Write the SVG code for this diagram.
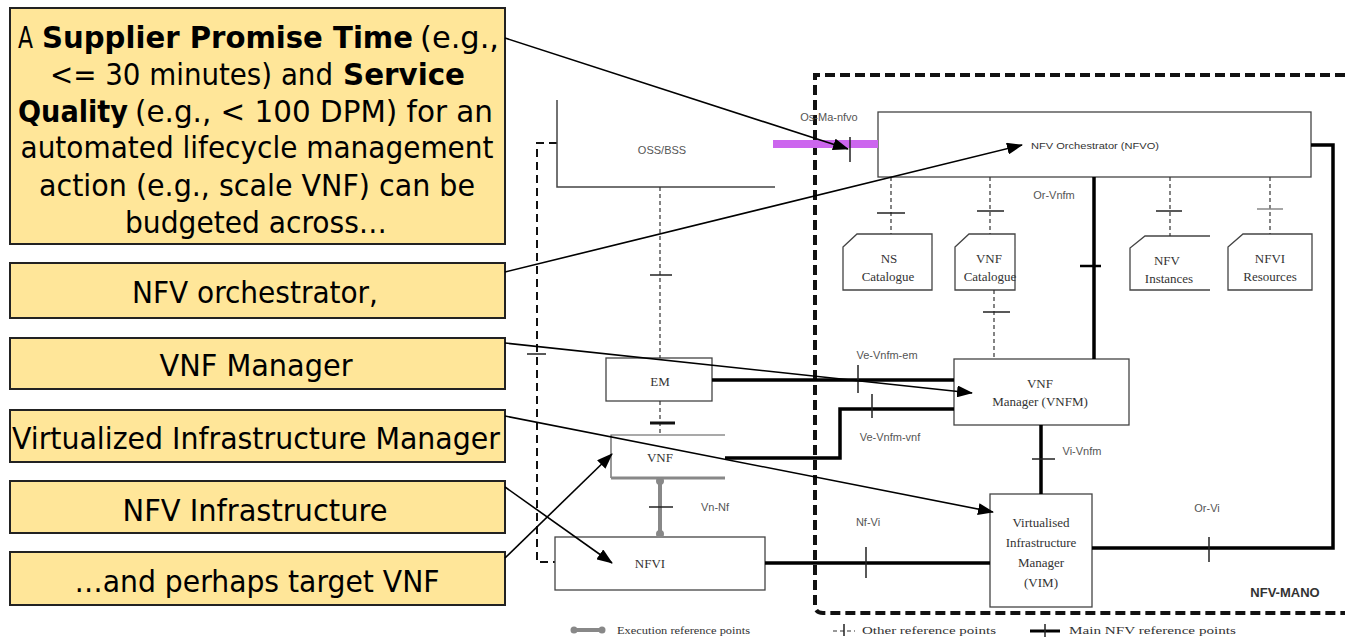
<svg xmlns="http://www.w3.org/2000/svg" width="1345" height="637" viewBox="0 0 1345 637">
<defs>
<marker id="ah" markerUnits="userSpaceOnUse" markerWidth="16" markerHeight="12" refX="15" refY="6" orient="auto">
<path d="M0,0 L16,6 L0,12 Z" fill="#000"/>
</marker>
</defs>
<style>
.cb{fill:#FFE699;stroke:#222;stroke-width:2}
.ct{font-family:"DejaVu Sans Condensed","DejaVu Sans",Verdana,sans-serif;font-size:31px;fill:#000;text-anchor:middle}
.cs{font-family:"DejaVu Sans Condensed","DejaVu Sans",Verdana,sans-serif;font-size:31px;fill:#000}
.b{font-weight:bold}
.box{fill:#fff;stroke:#444;stroke-width:1.3}
.st{font-family:"Liberation Serif","Times New Roman",serif;font-size:13px;fill:#333;text-anchor:middle}
.lb{font-family:"Liberation Sans",Arial,sans-serif;font-size:11px;fill:#555;text-anchor:middle}
.thick{fill:none;stroke:#000;stroke-width:3.5}
.dsh{fill:none;stroke:#333;stroke-width:1.2;stroke-dasharray:4,3}
.tick{stroke:#222;stroke-width:1.5}
.exe{stroke:#888;stroke-width:4;fill:none}
.arr{stroke:#000;stroke-width:1.6;fill:none;marker-end:url(#ah)}
</style>
<rect width="1345" height="637" fill="#fff"/>

<g id="frames">
<path d="M1345 75 H815 V605 Q815 613 823 613 H1345" fill="none" stroke="#111" stroke-width="4" stroke-dasharray="10,5"/>
<path d="M557 143 H537 V562 H555" fill="none" stroke="#111" stroke-width="2" stroke-dasharray="8,5"/>
<line class="tick" x1="527" y1="354" x2="546" y2="354"/>
<text x="1285" y="597" font-family="Liberation Sans,Arial,sans-serif" font-size="13" font-weight="bold" fill="#333" text-anchor="middle">NFV-MANO</text>
</g>

<g id="oss-bss">
<path d="M557 100 V187 H775" fill="none" stroke="#444" stroke-width="1.5"/>
<text x="662" y="154" font-family="Liberation Sans,Arial,sans-serif" font-size="11" fill="#555" text-anchor="middle">OSS/BSS</text>
</g>

<g id="nfvo">
<rect class="box" x="878" y="112" width="433" height="65"/>
<text x="1095" y="149" font-family="Liberation Sans,Arial,sans-serif" font-size="9" fill="#333" text-anchor="middle" textLength="128" lengthAdjust="spacingAndGlyphs">NFV Orchestrator (NFVO)</text>
</g>

<g id="ns-catalogue">
<path class="box" d="M843 247 L857 234 H932 V290 H843 Z"/>
<text class="st" x="889" y="263">NS</text>
<text class="st" x="888" y="281">Catalogue</text>
</g>
<g id="vnf-catalogue">
<path class="box" d="M955 247 L969 234 H1015 V290 H955 Z"/>
<text class="st" x="989" y="263">VNF</text>
<text class="st" x="990" y="281">Catalogue</text>
</g>
<g id="nfv-instances">
<path class="box" d="M1210 236 H1145 L1130 248 V290 H1210"/>
<text class="st" x="1167" y="265">NFV</text>
<text class="st" x="1169" y="283">Instances</text>
</g>
<g id="nfvi-resources">
<path class="box" d="M1228 247 L1243 234 H1312 V290 H1228 Z"/>
<text class="st" x="1270" y="263">NFVI</text>
<text class="st" x="1270" y="281">Resources</text>
</g>

<g id="em">
<rect class="box" x="606" y="358" width="106" height="43"/>
<text class="st" x="660" y="386" font-size="12">EM</text>
</g>
<g id="vnf">
<path d="M725 435 H611 V478" fill="none" stroke="#555" stroke-width="1.2"/>
<line x1="611" y1="478" x2="725" y2="478" stroke="#888" stroke-width="3"/>
<text class="st" x="660" y="462" font-size="12">VNF</text>
</g>
<g id="vnfm">
<rect class="box" x="954" y="359" width="175" height="66"/>
<text class="st" x="1040" y="388">VNF</text>
<text class="st" x="1040" y="406">Manager (VNFM)</text>
</g>
<g id="vim">
<rect class="box" x="990" y="494" width="102" height="113"/>
<text class="st" x="1041" y="527">Virtualised</text>
<text class="st" x="1041" y="547">Infrastructure</text>
<text class="st" x="1041" y="567">Manager</text>
<text class="st" x="1041" y="587">(VIM)</text>
</g>
<g id="nfvi">
<rect class="box" x="555" y="537" width="210" height="53"/>
<text class="st" x="650" y="568">NFVI</text>
</g>

<g id="connectors">
<line x1="773" y1="144" x2="878" y2="144" stroke="#CC66EE" stroke-width="8"/>
<line class="tick" x1="850" y1="137" x2="850" y2="162"/>
<text class="lb" x="829" y="121">Os-Ma-nfvo</text>
<line class="dsh" x1="660" y1="187" x2="660" y2="358"/>
<line class="tick" x1="650" y1="275" x2="672" y2="275"/>
<line class="dsh" x1="660" y1="401" x2="660" y2="435"/>
<line x1="650" y1="423" x2="675" y2="423" stroke="#111" stroke-width="3"/>
<line class="dsh" x1="891" y1="177" x2="891" y2="234"/>
<line class="tick" x1="877" y1="213" x2="905" y2="213"/>
<line class="dsh" x1="990" y1="177" x2="990" y2="234"/>
<line class="tick" x1="977" y1="211" x2="1004" y2="211"/>
<line class="dsh" x1="1170" y1="177" x2="1170" y2="236"/>
<line class="tick" x1="1156" y1="211" x2="1182" y2="211"/>
<line class="dsh" x1="1270" y1="177" x2="1270" y2="234"/>
<line x1="1257" y1="209" x2="1283" y2="209" stroke="#888" stroke-width="1.5"/>
<line class="dsh" x1="994" y1="290" x2="994" y2="359"/>
<line class="tick" x1="983" y1="312" x2="1010" y2="312"/>
<line class="thick" x1="1094" y1="177" x2="1094" y2="359"/>
<line x1="1080" y1="266" x2="1101" y2="266" stroke="#000" stroke-width="2.5"/>
<text class="lb" x="1054" y="199">Or-Vnfm</text>
<line class="thick" x1="712" y1="380" x2="954" y2="380"/>
<line class="tick" x1="858" y1="365" x2="858" y2="393"/>
<text class="lb" x="887" y="359">Ve-Vnfm-em</text>
<path class="thick" d="M725 458 H840 V409 H954"/>
<line class="tick" x1="872" y1="394" x2="872" y2="418"/>
<text class="lb" x="890" y="441">Ve-Vnfm-vnf</text>
<line class="thick" x1="1041" y1="425" x2="1041" y2="494"/>
<line class="tick" x1="1032" y1="459" x2="1055" y2="459"/>
<text class="lb" x="1082" y="455">Vi-Vnfm</text>
<path class="thick" d="M1311 145 H1333 V548 H1092"/>
<line class="tick" x1="1209" y1="537" x2="1209" y2="562"/>
<text class="lb" x="1207" y="512">Or-Vi</text>
<line class="thick" x1="765" y1="563" x2="990" y2="563"/>
<line class="tick" x1="866" y1="547" x2="866" y2="578"/>
<text class="lb" x="868" y="526">Nf-Vi</text>
<line class="exe" x1="660" y1="480" x2="660" y2="535"/>
<circle cx="660" cy="481" r="4" fill="#888"/>
<circle cx="660" cy="534" r="4" fill="#888"/>
<line x1="649" y1="507" x2="673" y2="507" stroke="#222" stroke-width="1.5"/>
<text class="lb" x="715" y="511">Vn-Nf</text>
</g>

<g id="legend">
<line class="exe" x1="573" y1="630" x2="603" y2="630" stroke-width="3"/>
<circle cx="574" cy="630" r="3.5" fill="#888"/>
<circle cx="602" cy="630" r="3.5" fill="#888"/>
<text x="617" y="634" font-family="Liberation Serif,serif" font-size="11" fill="#333" textLength="133" lengthAdjust="spacingAndGlyphs">Execution reference points</text>
<line class="dsh" x1="833" y1="631" x2="855" y2="631"/>
<line class="tick" x1="844" y1="624" x2="844" y2="636"/>
<text x="862" y="634" font-family="Liberation Serif,serif" font-size="11" fill="#333" textLength="134" lengthAdjust="spacingAndGlyphs">Other reference points</text>
<line x1="1030" y1="631" x2="1060" y2="631" stroke="#000" stroke-width="3"/>
<line class="tick" x1="1045" y1="624" x2="1045" y2="637"/>
<text x="1069" y="634" font-family="Liberation Serif,serif" font-size="11" fill="#333" textLength="167" lengthAdjust="spacingAndGlyphs">Main NFV reference points</text>
</g>

<g id="callout-1">
<rect class="cb" x="10" y="8" width="495" height="236"/>
<text class="cs" x="18" y="48" textLength="15" lengthAdjust="spacingAndGlyphs">A</text>
<text class="cs b" x="42" y="48" textLength="371" lengthAdjust="spacingAndGlyphs">Supplier Promise Time</text>
<text class="cs" x="420" y="48" textLength="79" lengthAdjust="spacingAndGlyphs">(e.g.,</text>
<text class="cs" x="50" y="85" textLength="283" lengthAdjust="spacingAndGlyphs">&lt;= 30 minutes) and</text>
<text class="cs b" x="343" y="85" textLength="122" lengthAdjust="spacingAndGlyphs">Service</text>
<text class="cs b" x="18" y="122" textLength="110" lengthAdjust="spacingAndGlyphs">Quality</text>
<text class="cs" x="135" y="122" textLength="358" lengthAdjust="spacingAndGlyphs">(e.g., &lt; 100 DPM) for an</text>
<text class="ct" x="257" y="158" textLength="473" lengthAdjust="spacingAndGlyphs">automated lifecycle management</text>
<text class="ct" x="257" y="196" textLength="436" lengthAdjust="spacingAndGlyphs">action (e.g., scale VNF) can be</text>
<text class="ct" x="256" y="233" textLength="262" lengthAdjust="spacingAndGlyphs">budgeted across…</text>
</g>
<g id="callout-2">
<rect class="cb" x="10" y="263" width="495" height="55"/>
<text class="ct" x="255" y="303" textLength="246" lengthAdjust="spacingAndGlyphs">NFV orchestrator,</text>
</g>
<g id="callout-3">
<rect class="cb" x="10" y="338" width="495" height="51"/>
<text class="ct" x="256" y="376" textLength="193" lengthAdjust="spacingAndGlyphs">VNF Manager</text>
</g>
<g id="callout-4">
<rect class="cb" x="10" y="410" width="495" height="52"/>
<text class="ct" x="256" y="449" textLength="488" lengthAdjust="spacingAndGlyphs">Virtualized Infrastructure Manager</text>
</g>
<g id="callout-5">
<rect class="cb" x="10" y="481" width="495" height="52"/>
<text class="ct" x="255" y="521" textLength="265" lengthAdjust="spacingAndGlyphs">NFV Infrastructure</text>
</g>
<g id="callout-6">
<rect class="cb" x="10" y="552" width="495" height="53"/>
<text class="ct" x="257" y="592" textLength="365" lengthAdjust="spacingAndGlyphs">…and perhaps target VNF</text>
</g>

<g id="callout-arrows">
<line class="arr" x1="505" y1="38" x2="848" y2="149"/>
<line class="arr" x1="505" y1="272" x2="1022" y2="145"/>
<line class="arr" x1="505" y1="343" x2="972" y2="393"/>
<line class="arr" x1="505" y1="416" x2="993" y2="512"/>
<line class="arr" x1="505" y1="487" x2="612" y2="563"/>
<line class="arr" x1="505" y1="558" x2="612" y2="454"/>
</g>
</svg>
